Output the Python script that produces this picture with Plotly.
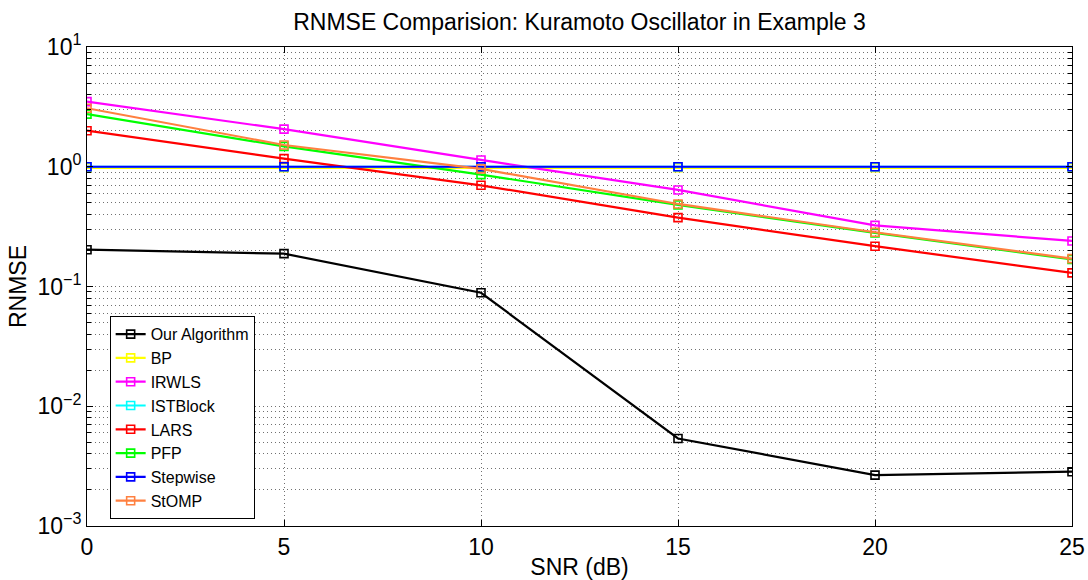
import plotly.graph_objects as go

snr = [0, 5, 10, 15, 20, 25]
names = ["Our Algorithm", "BP", "IRWLS", "ISTBlock", "LARS", "PFP", "Stepwise", "StOMP"]
colors = ["#000000", "#FFFF00", "#FF00FF", "#00FFFF", "#FF0000", "#00FF00", "#0000FF", "#FF8040"]
our_alg = [0.203, 0.188, 0.0886, 0.00538, 0.00266, 0.00284]
bp = [0.98, 0.98, 0.98, 0.98, 0.98, 0.98]
irwls = [3.5, 2.06, 1.14, 0.64, 0.324, 0.24]
istblock = [1.0, 1.0, 1.0, 1.0, 1.0, 1.0]
lars = [2.0, 1.17, 0.70, 0.376, 0.217, 0.13]
pfp = [2.75, 1.48, 0.86, 0.48, 0.28, 0.168]
stepwise = [1.0, 1.0, 1.0, 1.0, 1.0, 1.0]
stomp = [3.08, 1.52, 0.96, 0.489, 0.284, 0.171]
series = [our_alg, bp, irwls, istblock, lars, pfp, stepwise, stomp]

ytickvals = [1e-3, 1e-2, 1e-1, 1e0, 1e1]
yticktext = ["10<sup>\u22123</sup>", "10<sup>\u22122</sup>", "10<sup>\u22121</sup>", "10<sup>0</sup>", "10<sup>1</sup>"]
yminorvals = [m * 10.0 ** e for e in range(-3, 1) for m in range(2, 10)]

fig = go.Figure()
for n, c, ys in zip(names, colors, series):
    fig.add_trace(go.Scatter(
        x=snr, y=ys, name=n, mode="lines+markers",
        line=dict(color=c, width=2.2),
        marker=dict(symbol="square-open", size=8, color=c, line=dict(width=1.6, color=c)),
    ))

font = "Liberation Sans, Arial, sans-serif"
grid_dash = "1px,3px"
grid_color = "#707070"
fig.update_layout(
    width=1088, height=580,
    margin=dict(l=87, r=16, t=47, b=54, autoexpand=False),
    paper_bgcolor="white", plot_bgcolor="white",
    font=dict(family=font, color="black"),
    title=dict(text="RNMSE Comparision: Kuramoto Oscillator in Example 3",
               xref="paper", x=0.5, xanchor="center", y=1 - 22 / 580, yanchor="middle",
               font=dict(size=23, family=font, color="black")),
    legend=dict(x=0.023, y=0.438, xanchor="left", yanchor="top",
                bordercolor="black", borderwidth=1, bgcolor="white",
                font=dict(size=16, family=font), tracegroupgap=0,
                itemwidth=30),
    showlegend=True,
)
fig.update_xaxes(
    range=[0, 25], tickvals=[0, 5, 10, 15, 20, 25], automargin=False,
    showline=True, linecolor="black", linewidth=1, mirror="allticks",
    ticks="inside", ticklen=6, tickcolor="black",
    showgrid=True, gridcolor=grid_color, griddash=grid_dash, gridwidth=1,
    zeroline=False,
    tickfont=dict(size=23, family=font),
    title=dict(text="SNR (dB)", font=dict(size=23, family=font), standoff=0),
)
fig.update_yaxes(
    type="log", range=[-3, 1], tickvals=ytickvals, ticktext=yticktext, automargin=False,
    showline=True, linecolor="black", linewidth=1, mirror="allticks",
    ticks="inside", ticklen=6, tickcolor="black",
    showgrid=True, gridcolor=grid_color, griddash=grid_dash, gridwidth=1,
    zeroline=False,
    minor=dict(tickmode="array", tickvals=yminorvals, ticks="inside", ticklen=4,
               tickcolor="black", showgrid=True,
               gridcolor=grid_color, griddash=grid_dash, gridwidth=1),
    tickfont=dict(size=23, family=font),
    title=dict(text="RNMSE", font=dict(size=23, family=font), standoff=4),
)
fig.write_html("out.html")
